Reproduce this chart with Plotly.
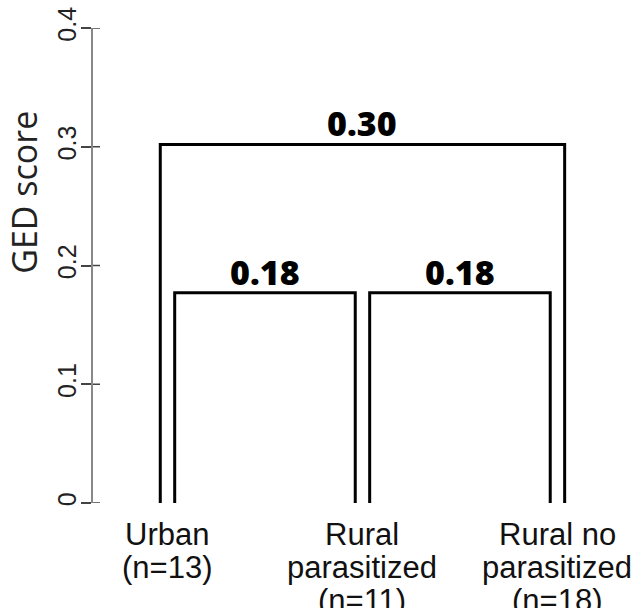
import plotly.graph_objects as go

# ---- data ----
leaf_names = ["Urban", "Rural<br>parasitized", "Rural no<br>parasitized"]
leaf_n = [13, 11, 18]
leaf_pos = [1, 2, 3]
# merges: (left leaf index, right leaf index, height)
merge_left = [0, 1, 0]
merge_right = [1, 2, 2]
merge_height = [0.177, 0.177, 0.302]
merge_side_left = [1, 1, -1]    # side of the leaf the vertical sits on
merge_side_right = [-1, -1, 1]
y_ticks = [0, 0.1, 0.2, 0.3, 0.4]
y_title = "GED score"

D = 0.037  # half gap between the twin verticals at a leaf

fig = go.Figure()
for li, ri, h, sl, sr in zip(merge_left, merge_right, merge_height,
                             merge_side_left, merge_side_right):
    x0 = leaf_pos[li] + sl * D
    x1 = leaf_pos[ri] + sr * D
    fig.add_trace(go.Scatter(
        x=[x0, x0, x1, x1], y=[0, h, h, 0], mode="lines",
        line=dict(color="black", width=3), hoverinfo="skip",
        showlegend=False))
    fig.add_annotation(x=(x0 + x1) / 2, y=h, text=f"{h:.2f}",
                       showarrow=False, yanchor="bottom", yshift=-4,
                       font=dict(family="Open Sans", size=34, weight=800,
                                 color="black"))

# leaf labels, one annotation per line for tight spacing
for name, n, xp in zip(leaf_names, leaf_n, leaf_pos):
    lines = name.split("<br>") + [f"(n={n})"]
    for i, ln in enumerate(lines):
        fig.add_annotation(x=xp, y=0, yref="y", text=ln, showarrow=False,
                           xanchor="center", yanchor="middle",
                           yshift=-31 - 33 * i,
                           font=dict(family="Liberation Sans", size=31,
                                     color="#111111"))

fig.add_annotation(x=0, xref="paper", xanchor="center", xshift=-69,
                   y=0.653, yref="paper", yanchor="middle",
                   text=y_title, textangle=-90, showarrow=False,
                   font=dict(family="Open Sans", size=34, color="#222222"))

# inner part of the tick marks (ticks cross the axis line)
for v in y_ticks:
    fig.add_shape(type="line", xref="paper", xsizemode="pixel", xanchor=0,
                  x0=0, x1=7, yref="y", y0=v, y1=v,
                  line=dict(color="#444444", width=1.5))

fig.update_layout(
    width=637, height=608,
    margin=dict(l=93, r=0, t=28, b=105),
    paper_bgcolor="white", plot_bgcolor="white",
    xaxis=dict(range=[0.618, 3.408], visible=False, fixedrange=True),
    yaxis=dict(range=[0, 0.4], tickvals=y_ticks,
               ticktext=[f"{v:g}" for v in y_ticks],
               tickangle=-90, ticks="outside", ticklen=10,
               ticklabelstandoff=-5,
               tickcolor="#444444", tickwidth=1.5,
               showline=True, linecolor="#888888", linewidth=1.5,
               showgrid=False, zeroline=False,
               tickfont=dict(family="Liberation Sans", size=25,
                             color="#222222")),
)

fig.write_html("out.html")
